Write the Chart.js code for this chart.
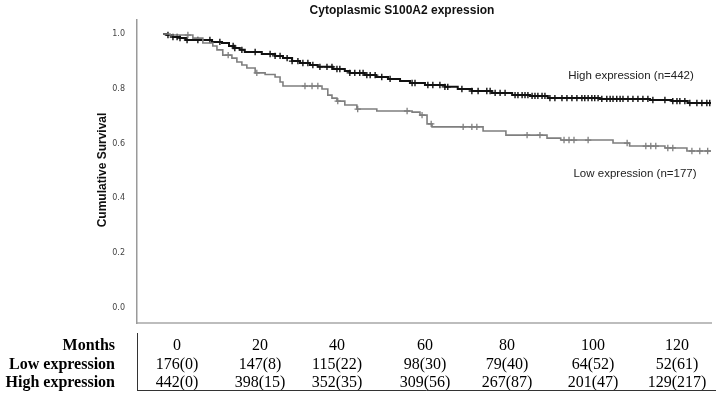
<!DOCTYPE html>
<html><head><meta charset="utf-8">
<script src="https://cdn.jsdelivr.net/npm/chart.js@4.4.1/dist/chart.umd.min.js"></script>
<style>html,body{margin:0;padding:0;background:#fff;}canvas{display:block;}</style>
</head><body>
<canvas id="c" width="726" height="397"></canvas>
<script>
// ---- data ----
const chartTitle = "Cytoplasmic S100A2 expression";
const yAxisTitle = "Cumulative Survival";
const yTickValues = [0, 0.2, 0.4, 0.6, 0.8, 1.0];

const lowLabel = "Low expression (n=177)";
const highLabel = "High expression (n=442)";

// Kaplan-Meier step points (months, survival)
const lowTimes = [0, 1.7, 7.2, 9.6, 12.0, 13.0, 14.4, 16.6, 17.8, 19.0, 20.2, 22.2, 24.6, 27.0, 28.2, 28.9, 38.3, 39.7, 40.7, 41.9, 43.8, 46.7, 51.5, 60.0, 61.9, 63.6, 64.8, 77.1, 82.6, 92.5, 95.8, 108.4, 112.4, 120.9, 126.2, 132];
const lowSurv  = [1.0, 0.996, 0.985, 0.967, 0.956, 0.942, 0.923, 0.912, 0.898, 0.887, 0.876, 0.858, 0.852, 0.843, 0.825, 0.810, 0.799, 0.777, 0.766, 0.755, 0.741, 0.726, 0.719, 0.715, 0.704, 0.672, 0.661, 0.646, 0.631, 0.620, 0.613, 0.602, 0.591, 0.584, 0.573, 0.573];
const lowCensored = [6.0, 15.7, 22.6, 34.2, 35.9, 37.3, 42.1, 46.9, 58.8, 62.4, 64.6, 72.3, 74.4, 75.6, 87.7, 90.8, 96.6, 97.8, 99.0, 102.4, 111.8, 116.3, 117.5, 118.7, 121.6, 122.8, 127.4, 129.3, 131.2];

const highTimes = [0, 1.0, 2.4, 4.1, 5.5, 11.8, 14.2, 15.9, 17.1, 18.5, 19.7, 23.8, 27.0, 28.9, 31.1, 33.0, 35.4, 37.3, 40.9, 43.8, 45.0, 48.6, 51.3, 54.2, 57.1, 59.5, 63.1, 67.9, 71.0, 74.4, 79.2, 84.1, 88.4, 92.7, 105.2, 117.3, 122.6, 126.4, 132];
const highSurv  = [1.0, 0.996, 0.989, 0.985, 0.978, 0.971, 0.967, 0.956, 0.949, 0.942, 0.934, 0.927, 0.920, 0.912, 0.901, 0.894, 0.887, 0.880, 0.872, 0.865, 0.858, 0.850, 0.843, 0.836, 0.828, 0.821, 0.814, 0.807, 0.799, 0.792, 0.785, 0.777, 0.774, 0.766, 0.763, 0.759, 0.755, 0.748, 0.748];
const highCensored = [1.2, 2.4, 3.4, 4.1, 5.8, 8.4, 11.3, 13.7, 16.9, 17.3, 19.0, 22.2, 25.8, 27.0, 28.2, 29.9, 31.1,
  32.5, 33.7, 34.9, 36.1, 37.8, 39.5, 40.7, 41.9, 42.6, 45.0, 46.2, 47.4, 48.2, 49.1, 49.9, 51.1, 52.7, 54.7, 60.0, 60.7, 63.8, 65.0,
  66.7, 67.9, 68.6, 72.0, 74.4, 75.9, 78.0, 78.8, 80.0, 81.2, 82.4, 84.8, 85.5, 86.5, 87.2, 87.9, 88.9, 89.6, 90.3, 91.3, 92.0, 93.2, 94.4, 96.1, 97.3, 98.5, 99.7,
  100.9, 101.6, 102.4, 103.3, 104.0, 104.8, 105.7, 106.9, 107.7, 108.4, 109.3, 110.1, 110.8, 112.0, 113.2, 114.4, 115.6, 116.8, 118.0, 120.9, 122.8, 123.8, 124.5, 125.7, 126.9, 128.6, 129.8, 131.0, 131.7];

// Numbers-at-risk table
const tableRowLabels = ["Months", "Low expression", "High expression"];
const tableMonths = ["0", "20", "40", "60", "80", "100", "120"];
const tableLow = ["176(0)", "147(8)", "115(22)", "98(30)", "79(40)", "64(52)", "52(61)"];
const tableHigh = ["442(0)", "398(15)", "352(35)", "309(56)", "267(87)", "201(47)", "129(217)"];

// ---- layout constants ----
const tableColX = [177, 260, 337, 425, 507, 593, 677];
const tableBaselines = [350, 369, 387];

function stepValue(times, surv, t) {
  let v = surv[0];
  for (let i = 0; i < times.length; i++) { if (times[i] <= t) v = surv[i]; else break; }
  return v;
}
const toPts = (ts, ss) => ts.map((t, i) => ({x: t, y: ss[i]}));
const censorPts = (cs, ts, ss) => cs.map(t => ({x: t, y: stepValue(ts, ss, t)}));

const LOW_COLOR = '#7f7f7f';
const HIGH_COLOR = '#111111';

const textPlugin = {
  id: 'texts',
  afterDraw(chart) {
    const ctx = chart.ctx;
    ctx.save();
    // title
    ctx.fillStyle = '#111';
    ctx.font = 'bold 12px "Liberation Sans", Arial, sans-serif';
    ctx.textAlign = 'center';
    ctx.textBaseline = 'middle';
    ctx.fillText(chartTitle, 402, 11);
    // y axis title
    ctx.save();
    ctx.translate(103, 170);
    ctx.rotate(-Math.PI / 2);
    ctx.fillText(yAxisTitle, 0, 0);
    ctx.restore();
    // curve labels
    ctx.font = '11.5px "Liberation Sans", Arial, sans-serif';
    ctx.fillStyle = '#222';
    ctx.fillText(highLabel, 631, 76);
    ctx.fillText(lowLabel, 635, 174);
    // table
    ctx.textBaseline = 'alphabetic';
    ctx.fillStyle = '#000';
    ctx.font = 'bold 16px "Liberation Serif", "Times New Roman", serif';
    ctx.textAlign = 'right';
    tableRowLabels.forEach((l, i) => ctx.fillText(l, 115, tableBaselines[i]));
    ctx.font = '16px "Liberation Serif", "Times New Roman", serif';
    ctx.textAlign = 'center';
    [tableMonths, tableLow, tableHigh].forEach((row, r) => {
      row.forEach((v, i) => ctx.fillText(v, tableColX[i], tableBaselines[r]));
    });
    ctx.strokeStyle = '#333';
    ctx.lineWidth = 1;
    ctx.beginPath();
    ctx.moveTo(137.5, 333); ctx.lineTo(137.5, 390.5);
    ctx.moveTo(137, 390.5); ctx.lineTo(716, 390.5);
    ctx.stroke();
    ctx.restore();
  }
};

new Chart(document.getElementById('c'), {
  type: 'line',
  data: {
    datasets: [
      { data: toPts(lowTimes, lowSurv), borderColor: LOW_COLOR, borderWidth: 1.6, stepped: 'before', pointRadius: 0, fill: false },
      { data: toPts(highTimes, highSurv), borderColor: HIGH_COLOR, borderWidth: 2, stepped: 'before', pointRadius: 0, fill: false },
      { type: 'scatter', data: censorPts(lowCensored, lowTimes, lowSurv), pointStyle: 'cross', pointRadius: 3.2, borderColor: LOW_COLOR, borderWidth: 1.3, showLine: false },
      { type: 'scatter', data: censorPts(highCensored, highTimes, highSurv), pointStyle: 'cross', pointRadius: 3.2, borderColor: HIGH_COLOR, borderWidth: 1.4, showLine: false }
    ]
  },
  options: {
    responsive: false,
    animation: false,
    devicePixelRatio: 1,
    layout: { padding: { top: 20, bottom: 74, left: 0, right: 15 } },
    plugins: { legend: { display: false }, title: { display: false }, tooltip: { enabled: false } },
    scales: {
      x: {
        type: 'linear', min: -6.26, max: 132,
        grid: { display: false },
        ticks: { display: false },
        border: { display: true, color: '#bdbdbd', width: 2 },
        afterFit: s => { s.height = 0; }
      },
      y: {
        type: 'linear', min: -0.0547, max: 1.051,
        grid: { display: false },
        border: { display: true, color: '#9a9a9a', width: 1.5 },
        afterBuildTicks: s => { s.ticks = yTickValues.map(v => ({ value: v })); },
        ticks: {
          padding: 4,
          color: '#444',
          font: { size: 8, family: '"DejaVu Sans", sans-serif' },
          callback: v => Number(v).toFixed(1)
        },
        afterFit: s => { s.width = 137; }
      }
    }
  },
  plugins: [textPlugin]
});
</script>
</body></html>
